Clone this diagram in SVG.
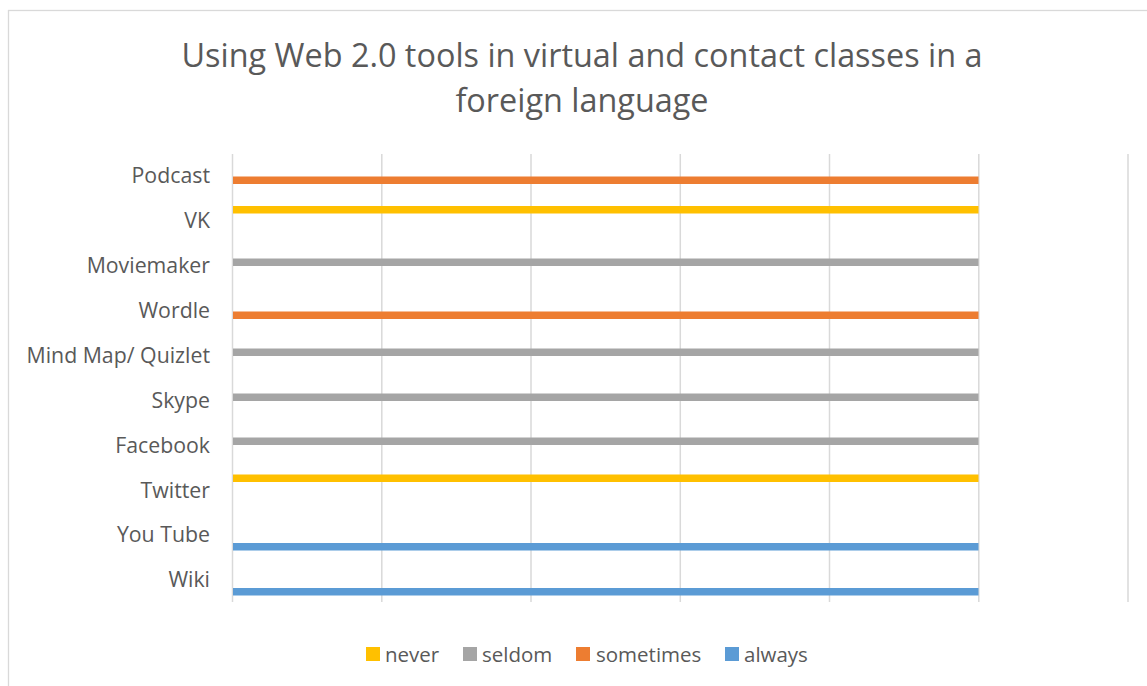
<svg xmlns="http://www.w3.org/2000/svg" width="1147" height="686" viewBox="0 0 1147 686">
<style>
.t{font-family:"Open Sans","Liberation Sans",sans-serif;fill:#595959}
.title{font-size:32.4px;text-anchor:middle}
.cat{font-size:21.3px;text-anchor:end}
.leg{font-size:20.5px}
.grid{stroke:#d9d9d9;stroke-width:1.5}
.never{fill:#FFC000}.seldom{fill:#A5A5A5}.sometimes{fill:#ED7D31}.always{fill:#5B9BD5}
</style>
<rect x="0" y="0" width="1147" height="686" fill="#ffffff"/>
<rect x="8.5" y="10.5" width="1150" height="690" fill="#ffffff" stroke="#d9d9d9" stroke-width="1.3"/>
<g id="title">
<text class="t title" x="582" y="66.5">Using Web 2.0 tools in virtual and contact classes in a</text>
<text class="t title" x="582" y="111.5">foreign language</text>
</g>
<g id="gridlines">
<line class="grid" x1="232.5" y1="154" x2="232.5" y2="602"/>
<line class="grid" x1="381.8" y1="154" x2="381.8" y2="602"/>
<line class="grid" x1="531" y1="154" x2="531" y2="602"/>
<line class="grid" x1="680.3" y1="154" x2="680.3" y2="602"/>
<line class="grid" x1="829.5" y1="154" x2="829.5" y2="602"/>
<line class="grid" x1="978.8" y1="154" x2="978.8" y2="602"/>
<line class="grid" x1="1128" y1="154" x2="1128" y2="602"/>
</g>
<g id="labels">
<text class="t cat" x="210" y="183">Podcast</text>
<text class="t cat" x="210" y="228">VK</text>
<text class="t cat" x="210" y="273">Moviemaker</text>
<text class="t cat" x="210" y="318">Wordle</text>
<text class="t cat" x="210" y="363">Mind Map/ Quizlet</text>
<text class="t cat" x="210" y="408">Skype</text>
<text class="t cat" x="210" y="453">Facebook</text>
<text class="t cat" x="210" y="498">Twitter</text>
<text class="t cat" x="210" y="542">You Tube</text>
<text class="t cat" x="210" y="587">Wiki</text>
</g>
<g id="bars">
<rect class="sometimes" x="233" y="176.5" width="745.5" height="7.5"/>
<rect class="never" x="233" y="206" width="745.5" height="7.5"/>
<rect class="seldom" x="233" y="258.5" width="745.5" height="7.5"/>
<rect class="sometimes" x="233" y="311.5" width="745.5" height="7.5"/>
<rect class="seldom" x="233" y="348.5" width="745.5" height="7.5"/>
<rect class="seldom" x="233" y="393.5" width="745.5" height="7.5"/>
<rect class="seldom" x="233" y="437.5" width="745.5" height="7.5"/>
<rect class="never" x="233" y="474.5" width="745.5" height="7.5"/>
<rect class="always" x="233" y="543" width="745.5" height="7.5"/>
<rect class="always" x="233" y="588" width="745.5" height="7.5"/>
</g>
<g id="legend">
<rect class="never" x="366" y="647" width="14" height="14"/>
<text class="t leg" x="385" y="661.5">never</text>
<rect class="seldom" x="463" y="647" width="14" height="14"/>
<text class="t leg" x="482" y="661.5">seldom</text>
<rect class="sometimes" x="576" y="647" width="14" height="14"/>
<text class="t leg" x="596" y="661.5">sometimes</text>
<rect class="always" x="725" y="647" width="14" height="14"/>
<text class="t leg" x="744" y="661.5">always</text>
</g>
</svg>
